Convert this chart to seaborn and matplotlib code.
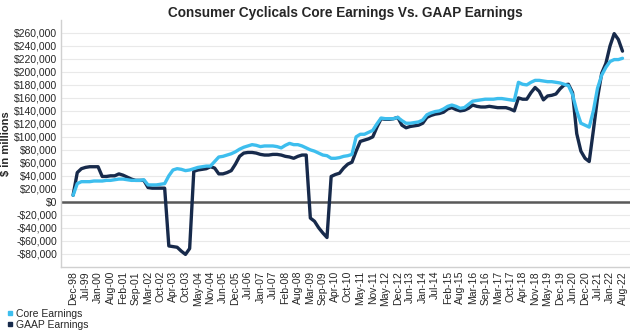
import matplotlib
matplotlib.use("Agg")
import matplotlib.pyplot as plt
from matplotlib.lines import Line2D
import seaborn as sns
import pandas as pd
import numpy as np

# ---- data ----
tick_labels = ["Dec-98", "Jul-99", "Jan-00", "Aug-00", "Feb-01", "Sep-01", "Mar-02", "Oct-02",
               "Apr-03", "Oct-03", "May-04", "Nov-04", "Jun-05", "Dec-05", "Jul-06", "Jan-07",
               "Jul-07", "Feb-08", "Aug-08", "Mar-09", "Sep-09", "Apr-10", "Oct-10", "May-11",
               "Nov-11", "May-12", "Dec-12", "Jun-13", "Jan-14", "Jul-14", "Feb-15", "Aug-15",
               "Mar-16", "Sep-16", "Mar-17", "Oct-17", "Apr-18", "Nov-18", "May-19", "Dec-19",
               "Jun-20", "Dec-20", "Jul-21", "Jan-22", "Aug-22"]

# three observations per labelled period (in $ thousand millions)
core_k = [10, 28, 31, 31, 31, 32, 32, 32, 33, 33, 34, 35, 35, 34, 33, 33, 33, 34,
          26, 26, 26, 27, 28, 40, 49, 51, 50, 48, 49, 51, 53, 54, 55,
          55, 62, 69, 70, 72, 74, 77, 81, 84, 86, 88, 87, 85, 86, 86, 86, 85, 83,
          87, 90, 88, 88, 86, 83, 80, 78, 75, 72, 71, 67, 67, 68, 70, 71, 73, 100,
          104, 104, 107, 110, 120, 129, 128, 128, 128, 130, 125, 121, 121, 122, 123,
          126, 134, 137, 139, 140, 143, 147, 149, 147, 144, 145, 150, 155, 156, 157,
          158, 158, 158, 159, 159, 158, 157, 156, 184, 181, 180, 184, 187, 187, 186,
          185, 185, 184, 183, 181, 179, 165, 140, 121, 118, 115, 140, 175, 195, 207,
          216, 219, 219, 221]
gaap_k = [10, 45, 51, 53, 54, 54, 54, 39, 39, 40, 40, 43, 41, 38, 35, 33, 33, 33,
          22, 21, 21, 21, 21, -68, -69, -70, -76, -81, -72, 47, 49, 50, 51,
          54, 52, 43, 43, 45, 48, 58, 70, 75, 76, 76, 75, 73, 72, 72, 73, 73, 72,
          70, 69, 67, 70, 72, 72, -25, -30, -40, -48, -55, 39, 42, 44, 52, 58, 61, 78,
          93, 95, 97, 100, 115, 128, 127, 127, 128, 130, 118, 114, 116, 117, 118,
          121, 130, 133, 135, 136, 138, 143, 145, 142, 140, 141, 144, 149, 147, 146,
          146, 147, 146, 145, 145, 145, 143, 140, 160, 158, 158, 168, 176, 170, 157,
          163, 164, 166, 174, 180, 181, 168, 105, 78, 67, 62, 110, 160, 198, 213,
          240, 259, 250, 232]

series_names = ["Core Earnings", "GAAP Earnings"]
colors = ["#3DBEEE", "#172A4B"]

n = len(core_k)
x = np.arange(n) / 3.0
df = pd.DataFrame({
    "x": np.concatenate([x, x]),
    "value": np.array(core_k + gaap_k) * 1000,
    "series": [series_names[0]] * n + [series_names[1]] * n,
})

sns.set_style("white")
plt.rcParams["font.family"] = ["Liberation Sans", "DejaVu Sans"]

fig = plt.figure(figsize=(6.3, 3.33), dpi=100)
ax = fig.add_axes([0.097, 0.199, 0.903, 0.741])

sns.lineplot(data=df, x="x", y="value", hue="series", hue_order=series_names,
             palette=colors, linewidth=2.4, ax=ax, legend=False, sort=False)
for line in ax.get_lines():
    line.set_solid_capstyle("round")
    line.set_solid_joinstyle("round")
lines = ax.get_lines()
if len(lines) >= 2:
    lines[0].set_zorder(4)
    lines[1].set_zorder(3)

ax.set_ylim(-100000, 280000)
ax.set_xlim(-0.96, 44.6)
yt = np.arange(-80000, 260001, 20000)
ax.set_yticks(yt)
ax.set_yticklabels([("-$" if v < 0 else "$") + f"{abs(v):,.0f}" for v in yt], fontsize=7.5)
ax.set_xticks(np.arange(len(tick_labels)))
ax.set_xticklabels(tick_labels, rotation=90, fontsize=7.5)
ax.tick_params(axis="both", length=0, pad=3)
ax.yaxis.grid(True, color="#E9E9E9", linewidth=0.8)
ax.xaxis.grid(False)
ax.set_axisbelow(True)
ax.axhline(0, color="#595959", linewidth=1.8, zorder=2)

for s in ["top", "right"]:
    ax.spines[s].set_visible(False)
for s in ["left", "bottom"]:
    ax.spines[s].set_color("#D0D0D0")
    ax.spines[s].set_linewidth(1.0)

ax.set_xlabel("")
ax.set_ylabel("$ in millions", fontsize=8, fontweight="bold", labelpad=2)
ax.set_title("Consumer Cyclicals Core Earnings Vs. GAAP Earnings",
             fontsize=9.8, fontweight="bold", pad=2.5)

handles = [Line2D([], [], marker="s", linestyle="none", color=c, markersize=3.5)
           for c in colors]
fig.legend(handles, series_names, loc="lower left", bbox_to_anchor=(-0.003, -0.01),
           frameon=False, fontsize=7.5, handletextpad=0.1, labelspacing=0.15,
           handlelength=1.0, borderaxespad=0.2)

fig.savefig("out.png", dpi=100)
